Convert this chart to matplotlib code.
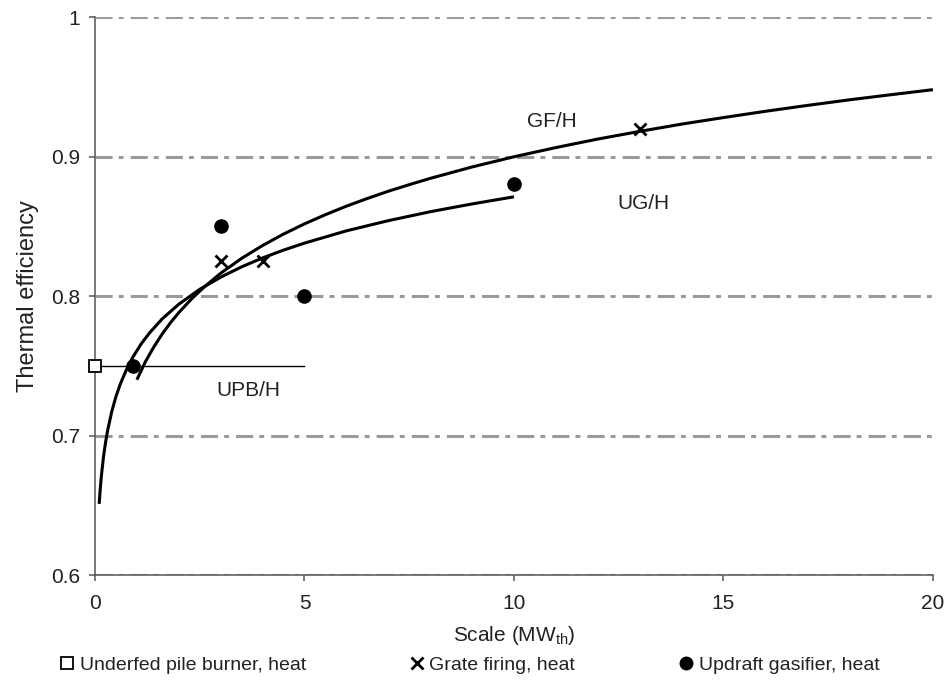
import matplotlib
matplotlib.use('Agg')
import matplotlib.pyplot as plt
from matplotlib.lines import Line2D

plt.rcParams['font.family'] = ['Liberation Sans', 'DejaVu Sans']
plt.rcParams['mathtext.fontset'] = 'custom'
plt.rcParams['mathtext.rm'] = 'Liberation Sans'
plt.rcParams['mathtext.default'] = 'regular'

# fitted curves
gf_x = [1.0, 1.2, 1.4, 1.6, 1.8, 2.0, 2.3, 2.6, 3.0, 3.5, 4.0, 4.5, 5.0, 5.5, 6.0, 6.5, 7.0,
        7.5, 8.0, 9.0, 10.0, 11.0, 12.0, 13.0, 14.0, 15.0, 16.0, 17.0, 18.0, 19.0, 20.0]
gf_y = [0.7400, 0.7527, 0.7633, 0.7726, 0.7808, 0.7881, 0.7978, 0.8063, 0.8163, 0.8270,
        0.8362, 0.8444, 0.8517, 0.8583, 0.8644, 0.8699, 0.8751, 0.8798, 0.8843, 0.8925,
        0.8998, 0.9064, 0.9125, 0.9180, 0.9232, 0.9279, 0.9324, 0.9366, 0.9406, 0.9443,
        0.9479]

ug_x = [0.1, 0.12, 0.15, 0.2, 0.25, 0.3, 0.4, 0.5, 0.6, 0.75, 0.9, 1.1, 1.3, 1.6, 2.0, 2.5,
        3.0, 3.5, 4.0, 4.5, 5.0, 6.0, 7.0, 8.0, 9.0, 10.0]
ug_y = [0.6510, 0.6597, 0.6703, 0.6841, 0.6947, 0.7034, 0.7172, 0.7279, 0.7366, 0.7472,
        0.7560, 0.7656, 0.7735, 0.7835, 0.7941, 0.8048, 0.8135, 0.8209, 0.8273, 0.8329,
        0.8379, 0.8467, 0.8540, 0.8604, 0.8660, 0.8711]

upb_x = [0, 5]
upb_y = [0.75, 0.75]

# data points
pile_x = [0]
pile_y = [0.75]
grate_x = [3, 4, 13]
grate_y = [0.825, 0.825, 0.92]
updraft_x = [0.9, 3, 5, 10]
updraft_y = [0.75, 0.85, 0.80, 0.88]

curve_labels = ['GF/H', 'UG/H', 'UPB/H']
label_pos = [(10.9, 0.925), (13.1, 0.866), (3.65, 0.732)]

legend_names = ['Underfed pile burner, heat', 'Grate firing, heat', 'Updraft gasifier, heat']

fig = plt.figure(figsize=(9.5, 6.8), dpi=100)
ax = fig.add_axes([0.1, 0.1544, 0.882, 0.8206])

ax.set_xlim(0, 20)
ax.set_ylim(0.6, 1.0)
ax.set_xticks([0, 5, 10, 15, 20])
ax.set_yticks([0.6, 0.7, 0.8, 0.9, 1.0])
ax.set_yticklabels(['0.6', '0.7', '0.8', '0.9', '1'])

ax.set_axisbelow(True)
ax.grid(axis='y', color='#9a9a9a', lw=2.2, linestyle=(0, (5.6, 2.0, 1.6, 2.3)))
ax.grid(axis='x', visible=False)

for side in ['top', 'right']:
    ax.spines[side].set_visible(False)
for side in ['left', 'bottom']:
    ax.spines[side].set_color('#555555')
    ax.spines[side].set_linewidth(1.1)
ax.tick_params(direction='out', length=4.5, width=1.1, color='#555555',
               labelsize=15, labelcolor='#222222')
ax.tick_params(axis='x', pad=9)
ax.tick_params(axis='y', pad=6)

ax.plot(gf_x, gf_y, color='black', lw=2.2, solid_capstyle='butt', solid_joinstyle='round')
ax.plot(ug_x, ug_y, color='black', lw=2.2, solid_capstyle='butt', solid_joinstyle='round')
ax.plot(upb_x, upb_y, color='black', lw=1.0)

ax.plot(pile_x, pile_y, ls='none', marker='s', ms=8.5, mfc='white', mec='black',
        mew=1.3, clip_on=False, zorder=5)
ax.plot(grate_x, grate_y, ls='none', marker='x', ms=8.5, mec='black', mew=2.0, zorder=5)
ax.plot(updraft_x, updraft_y, ls='none', marker='o', ms=9.5, mfc='black', mec='black', zorder=5)

for txt, (lx, ly) in zip(curve_labels, label_pos):
    ax.text(lx, ly, txt, fontsize=15, color='#222222', ha='center', va='center')

ax.set_xlabel('Scale (MW$_{th}$)', fontsize=15, color='#222222', labelpad=8)
ax.set_ylabel('Thermal efficiency', fontsize=17, color='#222222', labelpad=9)

handles = [
    Line2D([], [], ls='none', marker='s', ms=8, mfc='white', mec='black', mew=1.3),
    Line2D([], [], ls='none', marker='x', ms=8, mec='black', mew=2.0),
    Line2D([], [], ls='none', marker='o', ms=9, mfc='black', mec='black'),
]
fig.legend(handles, legend_names, loc='center', bbox_to_anchor=(0.495, 0.022),
           ncol=3, frameon=False, fontsize=14, handlelength=0.6, handletextpad=0.35,
           columnspacing=5.4, borderpad=0, labelcolor='#222222')

fig.savefig('out.png', dpi=100)
